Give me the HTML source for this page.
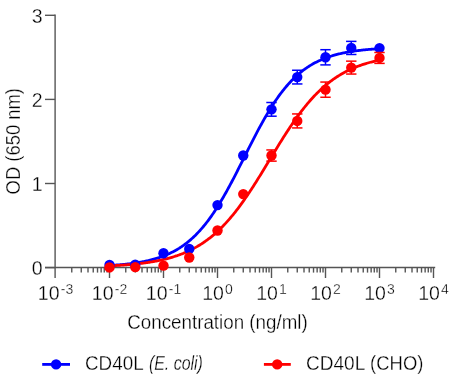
<!DOCTYPE html>
<html><head><meta charset="utf-8"><style>
html,body{margin:0;padding:0;background:#fff;width:450px;height:380px;overflow:hidden}
svg{display:block;will-change:transform}
text{font-family:"Liberation Sans",sans-serif;fill:#000000;stroke:#fff;stroke-width:0.3px}
</style></head><body>
<svg width="450" height="380" viewBox="0 0 450 380">
<g stroke="#555555" stroke-width="1.4" fill="none" shape-rendering="auto">
<line x1="55.1" y1="14.60000000000004" x2="55.1" y2="278.0"/>
<line x1="45" y1="267.5" x2="435.2" y2="267.5"/>
<line x1="45" y1="267.6" x2="55.1" y2="267.6"/>
<line x1="45" y1="183.50000000000003" x2="55.1" y2="183.50000000000003"/>
<line x1="45" y1="99.40000000000003" x2="55.1" y2="99.40000000000003"/>
<line x1="45" y1="15.30000000000004" x2="55.1" y2="15.30000000000004"/>
<line x1="71.76" y1="267.6" x2="71.76" y2="272.6"/>
<line x1="81.26" y1="267.6" x2="81.26" y2="272.6"/>
<line x1="88.01" y1="267.6" x2="88.01" y2="272.6"/>
<line x1="93.24" y1="267.6" x2="93.24" y2="272.6"/>
<line x1="97.52" y1="267.6" x2="97.52" y2="272.6"/>
<line x1="101.14" y1="267.6" x2="101.14" y2="272.6"/>
<line x1="104.27" y1="267.6" x2="104.27" y2="272.6"/>
<line x1="107.03" y1="267.6" x2="107.03" y2="272.6"/>
<line x1="109.5" y1="267.6" x2="109.5" y2="278.0"/>
<line x1="125.76" y1="267.6" x2="125.76" y2="272.6"/>
<line x1="135.26" y1="267.6" x2="135.26" y2="272.6"/>
<line x1="142.01" y1="267.6" x2="142.01" y2="272.6"/>
<line x1="147.24" y1="267.6" x2="147.24" y2="272.6"/>
<line x1="151.52" y1="267.6" x2="151.52" y2="272.6"/>
<line x1="155.14" y1="267.6" x2="155.14" y2="272.6"/>
<line x1="158.27" y1="267.6" x2="158.27" y2="272.6"/>
<line x1="161.03" y1="267.6" x2="161.03" y2="272.6"/>
<line x1="163.5" y1="267.6" x2="163.5" y2="278.0"/>
<line x1="179.76" y1="267.6" x2="179.76" y2="272.6"/>
<line x1="189.26" y1="267.6" x2="189.26" y2="272.6"/>
<line x1="196.01" y1="267.6" x2="196.01" y2="272.6"/>
<line x1="201.24" y1="267.6" x2="201.24" y2="272.6"/>
<line x1="205.52" y1="267.6" x2="205.52" y2="272.6"/>
<line x1="209.14" y1="267.6" x2="209.14" y2="272.6"/>
<line x1="212.27" y1="267.6" x2="212.27" y2="272.6"/>
<line x1="215.03" y1="267.6" x2="215.03" y2="272.6"/>
<line x1="217.5" y1="267.6" x2="217.5" y2="278.0"/>
<line x1="233.76" y1="267.6" x2="233.76" y2="272.6"/>
<line x1="243.26" y1="267.6" x2="243.26" y2="272.6"/>
<line x1="250.01" y1="267.6" x2="250.01" y2="272.6"/>
<line x1="255.24" y1="267.6" x2="255.24" y2="272.6"/>
<line x1="259.52" y1="267.6" x2="259.52" y2="272.6"/>
<line x1="263.14" y1="267.6" x2="263.14" y2="272.6"/>
<line x1="266.27" y1="267.6" x2="266.27" y2="272.6"/>
<line x1="269.03" y1="267.6" x2="269.03" y2="272.6"/>
<line x1="271.5" y1="267.6" x2="271.5" y2="278.0"/>
<line x1="287.76" y1="267.6" x2="287.76" y2="272.6"/>
<line x1="297.26" y1="267.6" x2="297.26" y2="272.6"/>
<line x1="304.01" y1="267.6" x2="304.01" y2="272.6"/>
<line x1="309.24" y1="267.6" x2="309.24" y2="272.6"/>
<line x1="313.52" y1="267.6" x2="313.52" y2="272.6"/>
<line x1="317.14" y1="267.6" x2="317.14" y2="272.6"/>
<line x1="320.27" y1="267.6" x2="320.27" y2="272.6"/>
<line x1="323.03" y1="267.6" x2="323.03" y2="272.6"/>
<line x1="325.5" y1="267.6" x2="325.5" y2="278.0"/>
<line x1="341.76" y1="267.6" x2="341.76" y2="272.6"/>
<line x1="351.26" y1="267.6" x2="351.26" y2="272.6"/>
<line x1="358.01" y1="267.6" x2="358.01" y2="272.6"/>
<line x1="363.24" y1="267.6" x2="363.24" y2="272.6"/>
<line x1="367.52" y1="267.6" x2="367.52" y2="272.6"/>
<line x1="371.14" y1="267.6" x2="371.14" y2="272.6"/>
<line x1="374.27" y1="267.6" x2="374.27" y2="272.6"/>
<line x1="377.03" y1="267.6" x2="377.03" y2="272.6"/>
<line x1="379.5" y1="267.6" x2="379.5" y2="278.0"/>
<line x1="395.76" y1="267.6" x2="395.76" y2="272.6"/>
<line x1="405.26" y1="267.6" x2="405.26" y2="272.6"/>
<line x1="412.01" y1="267.6" x2="412.01" y2="272.6"/>
<line x1="417.24" y1="267.6" x2="417.24" y2="272.6"/>
<line x1="421.52" y1="267.6" x2="421.52" y2="272.6"/>
<line x1="425.14" y1="267.6" x2="425.14" y2="272.6"/>
<line x1="428.27" y1="267.6" x2="428.27" y2="272.6"/>
<line x1="431.03" y1="267.6" x2="431.03" y2="272.6"/>
<line x1="433.5" y1="267.6" x2="433.5" y2="278.0"/>
</g>
<polyline points="109.50,265.49 110.40,265.43 111.31,265.38 112.21,265.32 113.11,265.26 114.02,265.20 114.92,265.14 115.82,265.07 116.72,265.00 117.63,264.93 118.53,264.86 119.43,264.79 120.34,264.71 121.24,264.63 122.14,264.55 123.05,264.46 123.95,264.37 124.85,264.28 125.75,264.19 126.66,264.09 127.56,263.99 128.46,263.89 129.37,263.79 130.27,263.68 131.17,263.56 132.08,263.45 132.98,263.33 133.88,263.20 134.78,263.07 135.69,262.94 136.59,262.81 137.49,262.66 138.40,262.52 139.30,262.37 140.20,262.21 141.11,262.05 142.01,261.89 142.91,261.72 143.81,261.54 144.72,261.36 145.62,261.18 146.52,260.98 147.43,260.78 148.33,260.58 149.23,260.37 150.14,260.15 151.04,259.93 151.94,259.69 152.84,259.46 153.75,259.21 154.65,258.95 155.55,258.69 156.46,258.42 157.36,258.15 158.26,257.86 159.17,257.56 160.07,257.26 160.97,256.95 161.87,256.62 162.78,256.29 163.68,255.95 164.58,255.59 165.49,255.23 166.39,254.86 167.29,254.47 168.20,254.08 169.10,253.67 170.00,253.25 170.90,252.82 171.81,252.37 172.71,251.91 173.61,251.44 174.52,250.96 175.42,250.46 176.32,249.95 177.23,249.42 178.13,248.88 179.03,248.33 179.93,247.75 180.84,247.17 181.74,246.56 182.64,245.95 183.55,245.31 184.45,244.66 185.35,243.99 186.26,243.30 187.16,242.60 188.06,241.87 188.96,241.13 189.87,240.37 190.77,239.59 191.67,238.79 192.58,237.97 193.48,237.13 194.38,236.27 195.29,235.39 196.19,234.49 197.09,233.57 197.99,232.63 198.90,231.66 199.80,230.68 200.70,229.67 201.61,228.64 202.51,227.59 203.41,226.52 204.32,225.42 205.22,224.30 206.12,223.16 207.03,221.99 207.93,220.81 208.83,219.60 209.73,218.36 210.64,217.11 211.54,215.83 212.44,214.53 213.35,213.21 214.25,211.86 215.15,210.49 216.06,209.10 216.96,207.69 217.86,206.26 218.76,204.81 219.67,203.33 220.57,201.84 221.47,200.32 222.38,198.79 223.28,197.24 224.18,195.66 225.09,194.07 225.99,192.46 226.89,190.84 227.79,189.20 228.70,187.54 229.60,185.87 230.50,184.18 231.41,182.48 232.31,180.77 233.21,179.04 234.12,177.30 235.02,175.56 235.92,173.80 236.82,172.03 237.73,170.26 238.63,168.48 239.53,166.69 240.44,164.90 241.34,163.11 242.24,161.31 243.15,159.50 244.05,157.70 244.95,155.90 245.85,154.10 246.76,152.30 247.66,150.50 248.56,148.70 249.47,146.91 250.37,145.13 251.27,143.35 252.18,141.58 253.08,139.82 253.98,138.06 254.88,136.32 255.79,134.58 256.69,132.86 257.59,131.15 258.50,129.46 259.40,127.78 260.30,126.11 261.21,124.46 262.11,122.82 263.01,121.20 263.91,119.60 264.82,118.01 265.72,116.45 266.62,114.90 267.53,113.37 268.43,111.86 269.33,110.38 270.24,108.91 271.14,107.46 272.04,106.04 272.94,104.63 273.85,103.25 274.75,101.89 275.65,100.55 276.56,99.24 277.46,97.94 278.36,96.67 279.27,95.43 280.17,94.20 281.07,93.00 281.97,91.82 282.88,90.66 283.78,89.53 284.68,88.42 285.59,87.33 286.49,86.26 287.39,85.22 288.30,84.19 289.20,83.19 290.10,82.21 291.01,81.26 291.91,80.32 292.81,79.41 293.71,78.51 294.62,77.64 295.52,76.79 296.42,75.96 297.33,75.14 298.23,74.35 299.13,73.58 300.04,72.82 300.94,72.09 301.84,71.37 302.74,70.67 303.65,69.99 304.55,69.33 305.45,68.68 306.36,68.05 307.26,67.44 308.16,66.84 309.07,66.26 309.97,65.69 310.87,65.14 311.77,64.60 312.68,64.08 313.58,63.57 314.48,63.08 315.39,62.60 316.29,62.14 317.19,61.68 318.10,61.24 319.00,60.81 319.90,60.40 320.80,59.99 321.71,59.60 322.61,59.22 323.51,58.85 324.42,58.49 325.32,58.14 326.22,57.80 327.13,57.47 328.03,57.15 328.93,56.84 329.83,56.54 330.74,56.25 331.64,55.96 332.54,55.69 333.45,55.42 334.35,55.16 335.25,54.91 336.16,54.67 337.06,54.43 337.96,54.20 338.86,53.98 339.77,53.76 340.67,53.55 341.57,53.35 342.48,53.16 343.38,52.96 344.28,52.78 345.19,52.60 346.09,52.43 346.99,52.26 347.89,52.10 348.80,51.94 349.70,51.78 350.60,51.64 351.51,51.49 352.41,51.35 353.31,51.22 354.22,51.09 355.12,50.96 356.02,50.84 356.92,50.72 357.83,50.60 358.73,50.49 359.63,50.38 360.54,50.28 361.44,50.18 362.34,50.08 363.25,49.98 364.15,49.89 365.05,49.80 365.95,49.71 366.86,49.63 367.76,49.55 368.66,49.47 369.57,49.39 370.47,49.32 371.37,49.25 372.28,49.18 373.18,49.11 374.08,49.05 374.98,48.98 375.89,48.92 376.79,48.86 377.69,48.81 378.60,48.75 379.50,48.70" fill="none" stroke="#0000ff" stroke-width="2.8" stroke-linejoin="round" stroke-linecap="round"/>
<polyline points="109.50,265.85 110.40,265.80 111.31,265.76 112.21,265.71 113.11,265.67 114.02,265.62 114.92,265.57 115.82,265.52 116.72,265.47 117.63,265.41 118.53,265.36 119.43,265.30 120.34,265.24 121.24,265.18 122.14,265.12 123.05,265.06 123.95,265.00 124.85,264.93 125.75,264.86 126.66,264.79 127.56,264.72 128.46,264.64 129.37,264.57 130.27,264.49 131.17,264.41 132.08,264.33 132.98,264.24 133.88,264.15 134.78,264.06 135.69,263.97 136.59,263.88 137.49,263.78 138.40,263.68 139.30,263.58 140.20,263.47 141.11,263.36 142.01,263.25 142.91,263.14 143.81,263.02 144.72,262.90 145.62,262.78 146.52,262.65 147.43,262.52 148.33,262.39 149.23,262.25 150.14,262.11 151.04,261.96 151.94,261.81 152.84,261.66 153.75,261.50 154.65,261.34 155.55,261.18 156.46,261.01 157.36,260.83 158.26,260.65 159.17,260.47 160.07,260.28 160.97,260.08 161.87,259.89 162.78,259.68 163.68,259.47 164.58,259.26 165.49,259.04 166.39,258.81 167.29,258.58 168.20,258.34 169.10,258.10 170.00,257.85 170.90,257.59 171.81,257.32 172.71,257.05 173.61,256.78 174.52,256.49 175.42,256.20 176.32,255.90 177.23,255.60 178.13,255.28 179.03,254.96 179.93,254.63 180.84,254.29 181.74,253.94 182.64,253.59 183.55,253.23 184.45,252.85 185.35,252.47 186.26,252.08 187.16,251.68 188.06,251.27 188.96,250.85 189.87,250.42 190.77,249.98 191.67,249.53 192.58,249.07 193.48,248.59 194.38,248.11 195.29,247.62 196.19,247.11 197.09,246.59 197.99,246.06 198.90,245.52 199.80,244.97 200.70,244.41 201.61,243.83 202.51,243.24 203.41,242.63 204.32,242.02 205.22,241.39 206.12,240.74 207.03,240.09 207.93,239.42 208.83,238.73 209.73,238.03 210.64,237.32 211.54,236.59 212.44,235.85 213.35,235.09 214.25,234.32 215.15,233.54 216.06,232.73 216.96,231.92 217.86,231.09 218.76,230.24 219.67,229.37 220.57,228.49 221.47,227.60 222.38,226.69 223.28,225.76 224.18,224.82 225.09,223.86 225.99,222.89 226.89,221.90 227.79,220.89 228.70,219.87 229.60,218.83 230.50,217.78 231.41,216.71 232.31,215.62 233.21,214.52 234.12,213.40 235.02,212.27 235.92,211.12 236.82,209.96 237.73,208.78 238.63,207.58 239.53,206.37 240.44,205.15 241.34,203.91 242.24,202.66 243.15,201.40 244.05,200.12 244.95,198.82 245.85,197.52 246.76,196.20 247.66,194.87 248.56,193.53 249.47,192.17 250.37,190.81 251.27,189.43 252.18,188.04 253.08,186.65 253.98,185.24 254.88,183.82 255.79,182.40 256.69,180.97 257.59,179.53 258.50,178.08 259.40,176.63 260.30,175.16 261.21,173.70 262.11,172.23 263.01,170.75 263.91,169.27 264.82,167.79 265.72,166.30 266.62,164.81 267.53,163.32 268.43,161.83 269.33,160.34 270.24,158.85 271.14,157.35 272.04,155.86 272.94,154.38 273.85,152.89 274.75,151.41 275.65,149.92 276.56,148.45 277.46,146.98 278.36,145.51 279.27,144.05 280.17,142.59 281.07,141.15 281.97,139.71 282.88,138.27 283.78,136.85 284.68,135.43 285.59,134.02 286.49,132.63 287.39,131.24 288.30,129.86 289.20,128.50 290.10,127.14 291.01,125.80 291.91,124.47 292.81,123.15 293.71,121.84 294.62,120.55 295.52,119.27 296.42,118.00 297.33,116.75 298.23,115.51 299.13,114.28 300.04,113.08 300.94,111.88 301.84,110.70 302.74,109.54 303.65,108.39 304.55,107.25 305.45,106.13 306.36,105.03 307.26,103.94 308.16,102.87 309.07,101.82 309.97,100.78 310.87,99.75 311.77,98.75 312.68,97.76 313.58,96.78 314.48,95.82 315.39,94.88 316.29,93.95 317.19,93.04 318.10,92.14 319.00,91.26 319.90,90.40 320.80,89.55 321.71,88.72 322.61,87.90 323.51,87.10 324.42,86.31 325.32,85.54 326.22,84.78 327.13,84.03 328.03,83.31 328.93,82.59 329.83,81.89 330.74,81.21 331.64,80.54 332.54,79.88 333.45,79.23 334.35,78.60 335.25,77.99 336.16,77.38 337.06,76.79 337.96,76.21 338.86,75.65 339.77,75.09 340.67,74.55 341.57,74.02 342.48,73.50 343.38,73.00 344.28,72.50 345.19,72.02 346.09,71.54 346.99,71.08 347.89,70.63 348.80,70.19 349.70,69.76 350.60,69.34 351.51,68.93 352.41,68.53 353.31,68.13 354.22,67.75 355.12,67.38 356.02,67.01 356.92,66.66 357.83,66.31 358.73,65.97 359.63,65.64 360.54,65.32 361.44,65.00 362.34,64.70 363.25,64.40 364.15,64.11 365.05,63.82 365.95,63.54 366.86,63.27 367.76,63.01 368.66,62.75 369.57,62.50 370.47,62.25 371.37,62.02 372.28,61.78 373.18,61.56 374.08,61.34 374.98,61.12 375.89,60.91 376.79,60.71 377.69,60.51 378.60,60.31 379.50,60.12" fill="none" stroke="#ff0000" stroke-width="2.8" stroke-linejoin="round" stroke-linecap="round"/>
<circle cx="109.50" cy="264.99" r="5.2" fill="#0000ff"/>
<circle cx="135.26" cy="264.74" r="5.2" fill="#0000ff"/>
<circle cx="163.50" cy="253.30" r="5.2" fill="#0000ff"/>
<circle cx="189.26" cy="248.93" r="5.2" fill="#0000ff"/>
<circle cx="217.50" cy="205.11" r="5.2" fill="#0000ff"/>
<circle cx="243.26" cy="155.49" r="5.2" fill="#0000ff"/>
<g stroke="#0000ff" stroke-width="1.5"><line x1="271.50" y1="102.50" x2="271.50" y2="116.20"/><line x1="266.30" y1="102.50" x2="276.70" y2="102.50"/><line x1="266.30" y1="116.20" x2="276.70" y2="116.20"/></g>
<circle cx="271.50" cy="109.35" r="5.2" fill="#0000ff"/>
<g stroke="#0000ff" stroke-width="1.5"><line x1="297.26" y1="70.25" x2="297.26" y2="83.95"/><line x1="292.06" y1="70.25" x2="302.46" y2="70.25"/><line x1="292.06" y1="83.95" x2="302.46" y2="83.95"/></g>
<circle cx="297.26" cy="77.10" r="5.2" fill="#0000ff"/>
<g stroke="#0000ff" stroke-width="1.5"><line x1="325.50" y1="49.70" x2="325.50" y2="64.90"/><line x1="320.30" y1="49.70" x2="330.70" y2="49.70"/><line x1="320.30" y1="64.90" x2="330.70" y2="64.90"/></g>
<circle cx="325.50" cy="57.30" r="5.2" fill="#0000ff"/>
<g stroke="#0000ff" stroke-width="1.5"><line x1="351.26" y1="41.38" x2="351.26" y2="54.48"/><line x1="346.06" y1="41.38" x2="356.46" y2="41.38"/><line x1="346.06" y1="54.48" x2="356.46" y2="54.48"/></g>
<circle cx="351.26" cy="47.93" r="5.2" fill="#0000ff"/>
<circle cx="379.50" cy="48.10" r="5.2" fill="#0000ff"/>
<circle cx="109.50" cy="267.43" r="5.2" fill="#ff0000"/>
<circle cx="135.26" cy="267.10" r="5.2" fill="#ff0000"/>
<circle cx="163.50" cy="265.67" r="5.2" fill="#ff0000"/>
<circle cx="189.26" cy="257.51" r="5.2" fill="#ff0000"/>
<circle cx="217.50" cy="230.50" r="5.2" fill="#ff0000"/>
<circle cx="243.26" cy="194.10" r="5.2" fill="#ff0000"/>
<g stroke="#ff0000" stroke-width="1.5"><line x1="271.50" y1="149.95" x2="271.50" y2="161.15"/><line x1="266.30" y1="149.95" x2="276.70" y2="149.95"/><line x1="266.30" y1="161.15" x2="276.70" y2="161.15"/></g>
<circle cx="271.50" cy="155.55" r="5.2" fill="#ff0000"/>
<g stroke="#ff0000" stroke-width="1.5"><line x1="297.26" y1="113.93" x2="297.26" y2="127.93"/><line x1="292.06" y1="113.93" x2="302.46" y2="113.93"/><line x1="292.06" y1="127.93" x2="302.46" y2="127.93"/></g>
<circle cx="297.26" cy="120.93" r="5.2" fill="#ff0000"/>
<g stroke="#ff0000" stroke-width="1.5"><line x1="325.50" y1="82.05" x2="325.50" y2="97.25"/><line x1="320.30" y1="82.05" x2="330.70" y2="82.05"/><line x1="320.30" y1="97.25" x2="330.70" y2="97.25"/></g>
<circle cx="325.50" cy="89.65" r="5.2" fill="#ff0000"/>
<g stroke="#ff0000" stroke-width="1.5"><line x1="351.26" y1="61.15" x2="351.26" y2="74.05"/><line x1="346.06" y1="61.15" x2="356.46" y2="61.15"/><line x1="346.06" y1="74.05" x2="356.46" y2="74.05"/></g>
<circle cx="351.26" cy="67.60" r="5.2" fill="#ff0000"/>
<g stroke="#ff0000" stroke-width="1.5"><line x1="379.50" y1="52.49" x2="379.50" y2="63.39"/><line x1="374.30" y1="52.49" x2="384.70" y2="52.49"/><line x1="374.30" y1="63.39" x2="384.70" y2="63.39"/></g>
<circle cx="379.50" cy="57.94" r="5.2" fill="#ff0000"/>
<line x1="42.2" y1="364.4" x2="70" y2="364.4" stroke="#0000ff" stroke-width="2.8"/>
<circle cx="56.1" cy="364.4" r="5.2" fill="#0000ff"/>
<line x1="263.9" y1="364.4" x2="290.8" y2="364.4" stroke="#ff0000" stroke-width="2.8"/>
<circle cx="277.2" cy="364.4" r="5.2" fill="#ff0000"/>
<g><text x="42.6" y="275.3" text-anchor="end" font-size="19.5" >0</text>
<text x="42.6" y="191.20000000000002" text-anchor="end" font-size="19.5" >1</text>
<text x="42.6" y="107.10000000000004" text-anchor="end" font-size="19.5" >2</text>
<text x="42.6" y="23.00000000000004" text-anchor="end" font-size="19.5" >3</text>
<text x="55.50" y="300" text-anchor="middle" font-size="19.5">10<tspan font-size="14" dy="-5.9" dx="1.2">-3</tspan></text>
<text x="109.50" y="300" text-anchor="middle" font-size="19.5">10<tspan font-size="14" dy="-5.9" dx="1.2">-2</tspan></text>
<text x="163.50" y="300" text-anchor="middle" font-size="19.5">10<tspan font-size="14" dy="-5.9" dx="1.2">-1</tspan></text>
<text x="217.50" y="300" text-anchor="middle" font-size="19.5">10<tspan font-size="14" dy="-5.9" dx="1.2">0</tspan></text>
<text x="271.50" y="300" text-anchor="middle" font-size="19.5">10<tspan font-size="14" dy="-5.9" dx="1.2">1</tspan></text>
<text x="325.50" y="300" text-anchor="middle" font-size="19.5">10<tspan font-size="14" dy="-5.9" dx="1.2">2</tspan></text>
<text x="379.50" y="300" text-anchor="middle" font-size="19.5">10<tspan font-size="14" dy="-5.9" dx="1.2">3</tspan></text>
<text x="433.50" y="300" text-anchor="middle" font-size="19.5">10<tspan font-size="14" dy="-5.9" dx="1.2">4</tspan></text>
<text x="217.5" y="329" text-anchor="middle" font-size="19.5" textLength="180.6" lengthAdjust="spacingAndGlyphs">Concentration (ng/ml)</text>
<text transform="translate(20,141.2) rotate(-90)" text-anchor="middle" font-size="19.5" textLength="106.4" lengthAdjust="spacingAndGlyphs">OD (650 nm)</text>
<text x="85.00" y="370.0" font-size="19.5"  textLength="58.60" lengthAdjust="spacingAndGlyphs">CD40L</text>
<text x="148.90" y="370.0" font-size="19.5" font-style="italic" textLength="54.00" lengthAdjust="spacingAndGlyphs">(E. coli)</text>
<text x="306.00" y="370.0" font-size="19.5"  textLength="59.30" lengthAdjust="spacingAndGlyphs">CD40L</text>
<text x="370.10" y="370.0" font-size="19.5"  textLength="53.30" lengthAdjust="spacingAndGlyphs">(CHO)</text></g>
</svg>
</body></html>
